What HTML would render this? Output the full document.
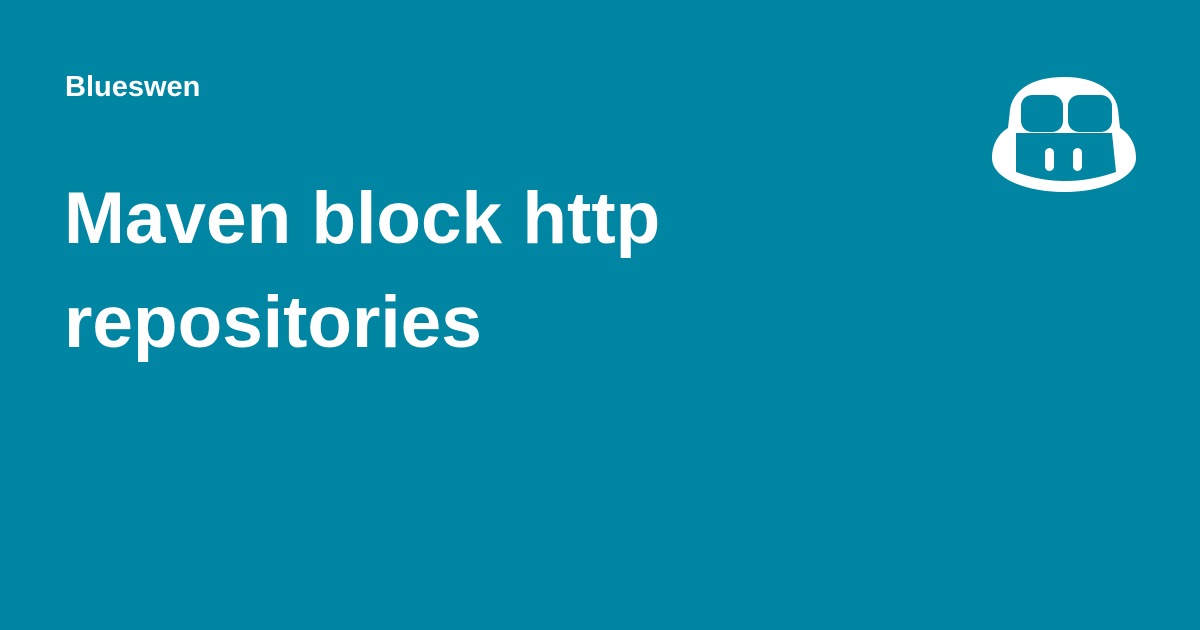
<!DOCTYPE html>
<html><head><meta charset="utf-8"><style>
html,body{margin:0;padding:0}
body{width:1200px;height:630px;background:#0086a2;position:relative;overflow:hidden;font-family:"Liberation Sans",sans-serif;color:#fff;font-weight:bold}
.a{position:absolute;left:65px;top:70px;font-size:29px;line-height:34px}
.t{position:absolute;left:64px;top:167px;font-size:73px;line-height:104px;width:900px}
svg{position:absolute;left:0;top:0}
</style></head><body>
<div class="a">Blueswen</div>
<div class="t">Maven block http<br>repositories</div>
<svg width="1200" height="630" viewBox="0 0 1200 630">
<path d="M1064 77 C1030 77 1012 92 1010 110 L1008 128 C998 134 992 145 992 158 C992 178 1025 192 1064 192 C1103 192 1136 178 1136 158 C1136 145 1130 134 1120 128 L1118 110 C1116 92 1098 77 1064 77 Z" fill="#fff"/>
<rect x="1021" y="95" width="42" height="37" rx="11" fill="#0086a2"/>
<rect x="1068" y="95" width="44" height="37" rx="11" fill="#0086a2"/>
<path d="M1016 133 L1112 133 L1116 172 Q1064 190 1016 172 Z" fill="#0086a2"/>
<rect x="1045" y="148" width="9" height="23" rx="4.5" fill="#fff"/>
<rect x="1073" y="148" width="9" height="23" rx="4.5" fill="#fff"/>
</svg>
</body></html>
